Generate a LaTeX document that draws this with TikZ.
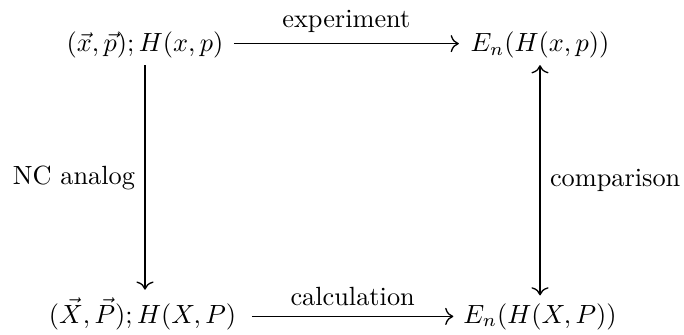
\documentclass[tikz,border=0pt]{standalone}
\usetikzlibrary{calc,arrows.meta}
\begin{document}
\begin{tikzpicture}[x=0.38pt,y=-0.38pt,>={Computer Modern Rightarrow[scale=1.15]},
  obj/.style={inner sep=0pt,outer sep=0pt,anchor=base},
  lbl/.style={inner sep=0pt,outer sep=0pt},
  arr/.style={->,line width=0.5pt}]
\useasboundingbox (0,0) rectangle (684,334);
\node[obj] (tl) at (145,51.5) {$(\vec{x},\vec{p}); H(x,p)$};
\node[obj] (tr) at (540,51.5) {$E_n(H(x,p))$};
\node[obj] (bl) at (142.5,323) {$(\vec{X},\vec{P}); H(X,P)$};
\node[obj] (br) at (540,323) {$E_n(H(X,P))$};
% horizontal
\draw[arr] ([xshift=4pt,yshift=3pt]tl.base east) --
  node[lbl,above=6pt,anchor=base] {experiment}
  ([xshift=-4.5pt,yshift=3pt]tr.base west);
\draw[arr] ([xshift=6pt,yshift=2.5pt]bl.base east) --
  node[lbl,above=4pt,anchor=base] {calculation}
  ([xshift=-3.8pt,yshift=2.5pt]br.base west);
% vertical
\draw[arr,shorten <=2.7pt,shorten >=3pt] (tl.south) --
  node[lbl,left=3.8pt] {NC analog}
  (tl.south |- bl.north);
\draw[arr,<->,shorten <=2.7pt,shorten >=3pt] (tr.south) --
  node[lbl,right=3.8pt] {comparison}
  (tr.south |- br.north);
\end{tikzpicture}
\end{document}
